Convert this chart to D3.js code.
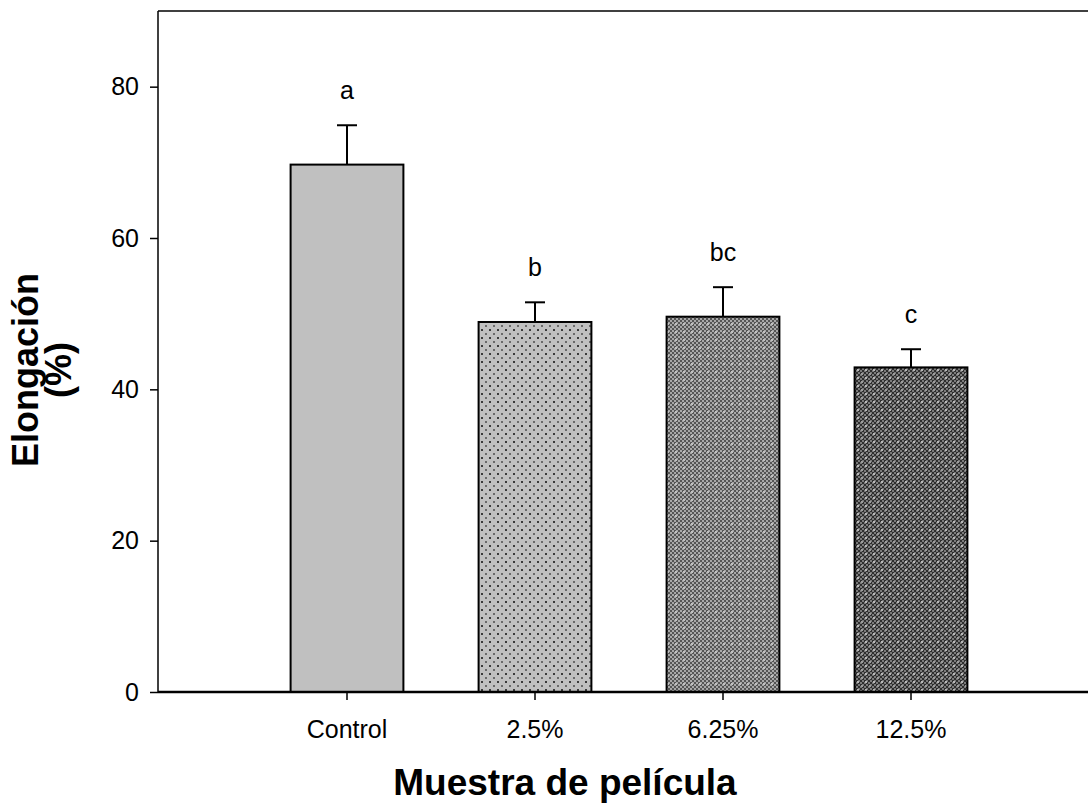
<!DOCTYPE html>
<html><head><meta charset="utf-8">
<script src="https://cdn.jsdelivr.net/npm/d3@7/dist/d3.min.js"></script>
<style>body{margin:0;background:#fff}svg{display:block}text{font-family:"Liberation Sans",Arial,sans-serif}</style>
</head><body>
<svg id="c" width="1089" height="808"></svg>
<script>
const categories = ["Control", "2.5%", "6.25%", "12.5%"];
const means = [69.7, 48.9, 49.6, 42.9];
const errors = [5.2, 2.6, 3.9, 2.4];
const letters = ["a", "b", "bc", "c"];
const yTicks = [0, 20, 40, 60, 80];
const patterns = ["solid", "dots", "checker", "darkchecker"];

const svg = d3.select("#c");
const m = {left: 158, right: 1088, top: 11, bottom: 692};

const defs = svg.append("defs");
let p = defs.append("pattern").attr("id","dots").attr("patternUnits","userSpaceOnUse").attr("width",8).attr("height",8);
p.append("rect").attr("width",8).attr("height",8).attr("fill","#c0c0c0");
p.append("rect").attr("x",1).attr("y",1).attr("width",2).attr("height",2).attr("fill","#3a3a3a");
p.append("rect").attr("x",5).attr("y",5).attr("width",2).attr("height",2).attr("fill","#6a6a6a");

p = defs.append("pattern").attr("id","checker").attr("patternUnits","userSpaceOnUse").attr("width",8).attr("height",8);
p.append("rect").attr("width",8).attr("height",8).attr("fill","#a8a8a8");
for (let i=0;i<4;i++) for (let j=0;j<4;j++) if ((i+j)%2===0)
  p.append("rect").attr("x",i*2).attr("y",j*2).attr("width",2).attr("height",2).attr("fill","#555");
p.append("rect").attr("x",3).attr("y",3).attr("width",2).attr("height",2).attr("fill","#c0c0c0");

p = defs.append("pattern").attr("id","darkchecker").attr("patternUnits","userSpaceOnUse").attr("width",8).attr("height",8);
p.append("rect").attr("width",8).attr("height",8).attr("fill","#7a7a7a");
for (let i=0;i<4;i++) for (let j=0;j<4;j++) if ((i+j)%2===0)
  p.append("rect").attr("x",i*2).attr("y",j*2).attr("width",2).attr("height",2).attr("fill","#2e2e2e");
p.append("rect").attr("x",1).attr("y",1).attr("width",2).attr("height",2).attr("fill","#b8b8b8");
p.append("rect").attr("x",5).attr("y",5).attr("width",2).attr("height",2).attr("fill","#9c9c9c");

const y = d3.scaleLinear().domain([0, 90]).range([m.bottom, m.top]);
const x = d3.scaleBand().domain(categories).range([253, 1005]).paddingInner(0.4).paddingOuter(0.2);
const fills = {solid:"#c0c0c0", dots:"url(#dots)", checker:"url(#checker)", darkchecker:"url(#darkchecker)"};

svg.append("g").selectAll("rect").data(categories).join("rect")
  .attr("x", d => x(d)).attr("width", x.bandwidth())
  .attr("y", (d,i) => y(means[i])).attr("height", (d,i) => y(0) - y(means[i]))
  .attr("fill", (d,i) => fills[patterns[i]]).attr("stroke","#000").attr("stroke-width",2);

const eg = svg.append("g").attr("stroke","#000").attr("stroke-width",2);
categories.forEach((c,i) => {
  const cx = x(c) + x.bandwidth()/2;
  const top = y(means[i]+errors[i]);
  eg.append("line").attr("x1",cx).attr("x2",cx).attr("y1",y(means[i])).attr("y2",top);
  eg.append("line").attr("x1",cx-10).attr("x2",cx+10).attr("y1",top).attr("y2",top);
  svg.append("text").attr("x",cx).attr("y",top - 26).attr("text-anchor","middle")
    .attr("font-size",25).text(letters[i]);
});

const ya = svg.append("g").attr("transform",`translate(${m.left},0)`)
  .call(d3.axisLeft(y).tickValues(yTicks).tickSize(8).tickPadding(11));
ya.select(".domain").remove();
ya.selectAll("line").attr("stroke-width",1.5);
ya.selectAll("text").attr("font-size",25).attr("font-family","Liberation Sans, Arial, sans-serif").attr("fill","#000");

const xa = svg.append("g").attr("transform",`translate(0,${m.bottom})`)
  .call(d3.axisBottom(x).tickSize(8).tickPadding(20));
xa.select(".domain").remove();
xa.selectAll("line").attr("stroke-width",1.5);
xa.selectAll("text").attr("font-size",25).attr("font-family","Liberation Sans, Arial, sans-serif").attr("fill","#000");

svg.append("line").attr("x1",m.left).attr("x2",m.left).attr("y1",m.top).attr("y2",m.bottom).attr("stroke","#000").attr("stroke-width",1.5);
svg.append("line").attr("x1",m.left).attr("x2",m.right).attr("y1",m.top).attr("y2",m.top).attr("stroke","#000").attr("stroke-width",1.5);
svg.append("line").attr("x1",m.left).attr("x2",m.right).attr("y1",m.bottom).attr("y2",m.bottom).attr("stroke","#000").attr("stroke-width",2.5);

svg.append("text").attr("x",565).attr("y",795).attr("text-anchor","middle").attr("font-size",37).attr("font-weight","bold").text("Muestra de película");
const yl = svg.append("text").attr("transform","translate(38,370) rotate(-90)").attr("text-anchor","middle").attr("font-size",36).attr("font-weight","bold");
yl.append("tspan").attr("x",0).attr("dy",0).text("Elongación");
yl.append("tspan").attr("x",0).attr("dy",33).text("(%)");
</script>
</body></html>
